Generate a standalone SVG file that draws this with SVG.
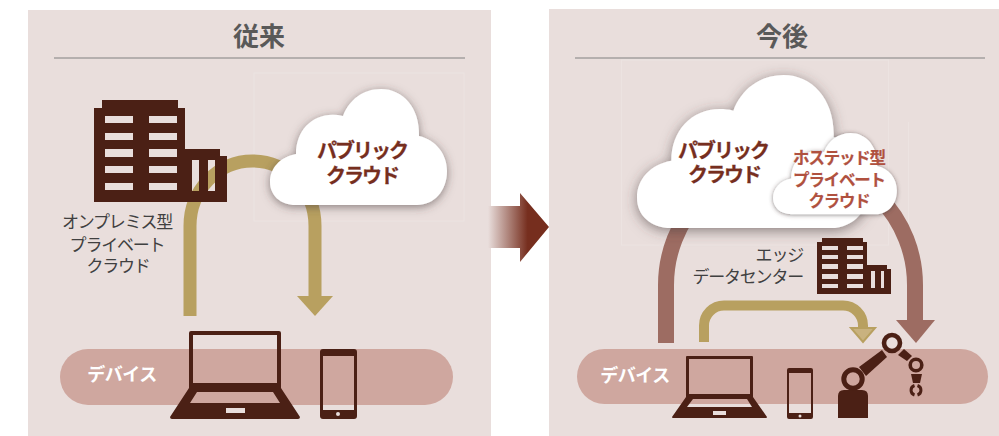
<svg xmlns="http://www.w3.org/2000/svg" width="999" height="436" viewBox="0 0 999 436">
<style>
text{font-family:"Noto Sans CJK JP","Noto Sans",sans-serif;text-anchor:middle}
.title{font-size:26px;font-weight:700;fill:#595959}
.pub{font-size:20px;font-weight:700;fill:#762e1e;letter-spacing:-2px;stroke:#762e1e;stroke-width:.3px}
.host{font-size:16.500px;font-weight:700;fill:#b0513f;letter-spacing:-1.200px;stroke:#b0513f;stroke-width:.2px}
.dark{font-size:17px;fill:#404040;letter-spacing:-1.200px}
.dev{font-size:18px;font-weight:700;fill:#fff;letter-spacing:-.5px}
.panel{fill:#e9dedc}
.pill{fill:#cfa79f}
.ic{fill:#4b2015}
.ln{fill:none;stroke:#4b2015}
.guide{fill:none;stroke:#ece3e1;stroke-width:1}
.gold{fill:none;stroke:#b8a060}
.rose{fill:none;stroke:#9d6c62;stroke-width:16}
</style>
<defs>
<linearGradient id="fade" x1="0" x2="1" y1="0" y2="0"><stop offset="0" stop-color="#e9dedc"/><stop offset="0.65" stop-color="#762e1e"/><stop offset="1" stop-color="#762e1e"/></linearGradient>
<filter id="sh" x="-20%" y="-20%" width="140%" height="140%"><feDropShadow dx="0" dy="2" stdDeviation="5" flood-color="#4a3a3a" flood-opacity="0.6"/></filter>
<filter id="shs" x="-20%" y="-20%" width="140%" height="140%"><feDropShadow dx="0" dy="1" stdDeviation="3" flood-color="#4a3a3a" flood-opacity="0.65"/></filter>
<path id="cloud" d="M296 205C280 205 270 195 270 182C270 168 280 157 296 154C296 128 316 110 343 116C349 100 363 89 381 89C403 89 420 108 419 136C436 140 447 154 447 171C447 191 434 205 417 205Z" fill="#fff"/>
</defs>
<g id="panel-left"><rect class="panel" x="28" y="10" width="463" height="426"/></g>
<g id="panel-right"><rect class="panel" x="549" y="9" width="450" height="427"/></g>
<g id="guides">
<rect class="guide" x="254" y="73" width="210" height="148"/>
<rect class="guide" x="621.500" y="60" width="267" height="185"/>
<path class="guide" d="M908.500 122V225H889"/>
</g>
<g id="title-left"><text class="title" x="259" y="46">従来</text><path d="M54 58H465" stroke="#808080" stroke-width="1"/></g>
<g id="title-right"><text class="title" x="782" y="46">今後</text><path d="M575 58H985" stroke="#808080" stroke-width="1"/></g>
<g id="device-left"><rect class="pill" x="60" y="349" width="393" height="56" rx="28"/><text class="dev" x="122" y="381">デバイス</text></g>
<g id="device-right"><rect class="pill" x="577" y="349" width="411" height="55" rx="27.500"/><text class="dev" x="635" y="382">デバイス</text></g>
<g id="connectors">
<path class="gold" stroke-width="13" d="M190 316V226A62.500 65 0 0 1 315 226V298"/>
<path d="M297 296H333L315 316Z" fill="#b8a060"/>
<path class="rose" d="M666 343V285A124.500 125 0 0 1 915 285V321"/>
<path d="M896 320H935L916 343Z" fill="#9d6c62"/>
<path class="gold" stroke-width="10" d="M704 342V325.500A20 20 0 0 1 724 305.500H843A20 20 0 0 1 863 325.500V329"/>
<path d="M851 328H875L863 342Z" fill="#c9b27f" stroke="#b8a060" stroke-width="2"/>
</g>
<g id="building-onprem"><path class="ic" fill-rule="evenodd" d="M102 100H178V108H185V149H220V156H227V202H94V108H102ZM105 116V123H133V116ZM149 116V123H177V116ZM105 133V140H133V133ZM149 133V140H177V133ZM105 149V157H133V149ZM149 149V157H177V149ZM105 166V173H133V166ZM149 166V173H177V166ZM105 183V190H133V183ZM149 183V190H177V183ZM192 160V191H199V160ZM208 160V191H215V160Z"/>
<text class="dark" x="117" y="228">オンプレミス型</text><text class="dark" x="117" y="251">プライベート</text><text class="dark" x="118" y="272">クラウド</text></g>
<g id="cloud-public-left"><use href="#cloud" filter="url(#sh)"/><text class="pub" x="362" y="158">パブリック</text><text class="pub" x="362" y="183">クラウド</text></g>
<g id="cloud-public-right"><use href="#cloud" transform="translate(637 75) scale(1.32) translate(-270 -89)" filter="url(#sh)"/><text class="pub" x="723" y="158">パブリック</text><text class="pub" x="724" y="182">クラウド</text></g>
<g id="cloud-hosted"><use href="#cloud" transform="translate(773 133) scale(0.7) translate(-270 -89)" filter="url(#shs)"/><text class="host" x="839" y="164">ホステッド型</text><text class="host" x="839" y="186">プライベート</text><text class="host" x="839" y="207">クラウド</text></g>
<g id="building-edge"><path class="ic" fill-rule="evenodd" d="M822 238H863V242H867V265H887V269H891V294H817V242H822ZM822 246V250H838V246ZM847 246V250H863V246ZM822 255V259H838V255ZM847 255V259H863V255ZM822 264V269H838V264ZM847 264V269H863V264ZM822 274V279H838V274ZM847 274V279H863V274ZM822 284V288H838V284ZM847 284V288H863V284ZM871 271V288H875V271ZM881 271V288H884V271Z"/>
<text class="dark" x="803" y="261" style="text-anchor:end">エッジ</text><text class="dark" x="803" y="283" style="text-anchor:end">データセンター</text></g>
<g id="laptop-left"><path class="ic" fill-rule="evenodd" d="M189 333Q189 331 191 331H279Q281 331 281 333V388L300 417Q300 419 298 419H172Q170 419 170 417L189 388ZM193 335V383H277V335ZM197 392L190 403H280L273 392ZM226 408V413H245V408Z"/></g>
<g id="phone-left"><path class="ic" fill-rule="evenodd" d="M323 349H354Q357 349 357 352V416Q357 419 354 419H323Q320 419 320 416V352Q320 349 323 349ZM323 356V410H354V356ZM340 414A2 2 0 1 0 336 414A2 2 0 1 0 340 414Z"/></g>
<g id="laptop-right"><path class="ic" fill-rule="evenodd" d="M686 357Q686 356 687 356H752Q753 356 753 357V397L767 417Q767 418 766 418H673Q672 418 672 417L686 397ZM689 359V394H750V359ZM693 399L687 407H752L747 399ZM713 411V415H726V411Z"/></g>
<g id="phone-right"><path class="ic" fill-rule="evenodd" d="M789 368H811Q813 368 813 370V417Q813 419 811 419H789Q787 419 787 417V370Q787 368 789 368ZM789 373V413H811V373ZM801.500 416A1.500 1.500 0 1 0 798.500 416A1.500 1.500 0 1 0 801.500 416Z"/></g>
<g id="robot">
<path class="ic" d="M838 418V396Q838 390 844 390H862Q868 390 868 396V418Z"/>
<circle class="ln" cx="853" cy="379" r="9.200" stroke-width="5"/>
<path class="ic" d="M859 367L882 350L887 357L866 376Z"/>
<circle class="ln" cx="892" cy="343" r="8" stroke-width="4.600"/>
<path class="ic" d="M898 355L904 349L912 356L907 361Z"/>
<circle class="ln" cx="916" cy="365" r="5.800" stroke-width="3.600"/>
<path class="ic" d="M911 374L922 374L920 383H913Z"/>
<path class="ln" stroke-width="3" d="M914.500 385.500A5 5 0 0 0 914.500 395M917.500 385.500A5 5 0 0 1 917.500 395"/>
</g>
<g id="transition-arrow"><path fill="url(#fade)" d="M488 206H520V193L549 227L520 262V248H488Z"/></g>
</svg>
